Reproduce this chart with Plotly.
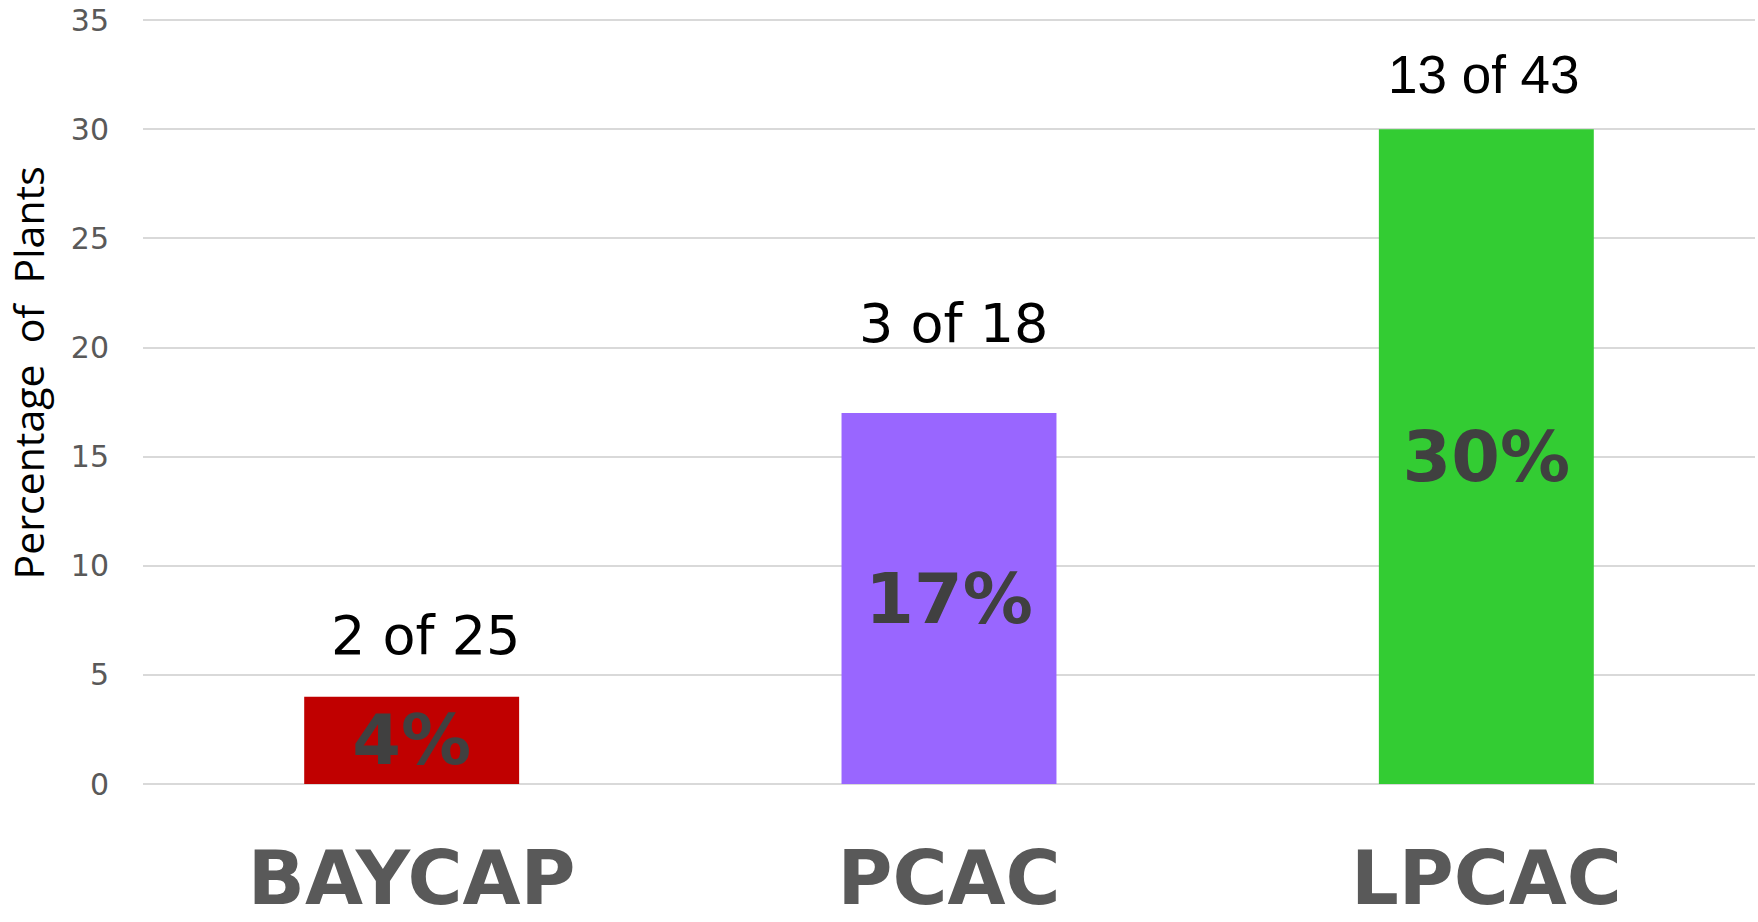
import plotly.graph_objects as go

categories = ["BAYCAP", "PCAC", "LPCAC"]
pct_plants = [4, 17, 30]
count_labels = ["2 of 25", "3 of 18", "13 of 43"]
bar_colors = ["#C00000", "#9966FF", "#33CC33"]
y_ticks = [0, 5, 10, 15, 20, 25, 30, 35]

# where the "n of N" labels sit (in y units) and which font each one uses
count_label_y = [6.8, 21.1, 32.5]
count_label_font = ["DejaVu Sans", "DejaVu Sans", "Liberation Sans"]
count_label_size = [54, 54, 53]
count_label_xshift = [14, 4, -2]

fig = go.Figure(
    go.Bar(
        x=categories,
        y=pct_plants,
        marker=dict(color=bar_colors, line=dict(width=0)),
        text=[f"{v}%" for v in pct_plants],
        textposition="inside",
        insidetextanchor="middle",
        textangle=0,
        constraintext="none",
        textfont=dict(family="DejaVu Sans", size=70, color="#404040", weight="bold"),
        hoverinfo="skip",
    )
)

for cat, lab, y, fam, sz, dx in zip(categories, count_labels, count_label_y,
                                    count_label_font, count_label_size, count_label_xshift):
    fig.add_annotation(
        x=cat, y=y, text=lab, showarrow=False, xshift=dx,
        font=dict(family=fam, size=sz, color="#000000"),
        xanchor="center", yanchor="middle",
    )

fig.add_annotation(
    xref="paper", yref="paper", x=-0.0715, y=0.537,
    text="Percentage\u00a0\u00a0of\u00a0\u00a0Plants", textangle=-90, showarrow=False,
    font=dict(family="Open Sans", size=41, color="#000000"),
    xanchor="center", yanchor="middle",
)

fig.update_layout(
    width=1758,
    height=922,
    margin=dict(l=143, r=3, t=18, b=138),
    plot_bgcolor="white",
    paper_bgcolor="white",
    bargap=0.6,
    showlegend=False,
    xaxis=dict(
        showgrid=False,
        showline=False,
        ticks="",
        automargin=False,
        tickfont=dict(family="DejaVu Sans", size=75, color="#595959", weight="bold"),
        ticklabelstandoff=44,
    ),
    yaxis=dict(
        # a little headroom so the 35 gridline is not dropped at the edge
        range=[0, 35.1],
        tickmode="array",
        tickvals=y_ticks,
        showgrid=True,
        gridcolor="#D9D9D9",
        gridwidth=2,
        zeroline=True,
        zerolinecolor="#D9D9D9",
        zerolinewidth=2,
        showline=False,
        ticks="",
        automargin=False,
        ticklabeloverflow="allow",
        tickfont=dict(family="DejaVu Sans", size=30, color="#595959"),
        ticklabelstandoff=33,
    ),
)

# drop the default 8px body margin so the figure fills the window exactly
fig.write_html(
    "out.html",
    config={"displayModeBar": False},
    post_script="document.body.style.margin='0px';",
)
